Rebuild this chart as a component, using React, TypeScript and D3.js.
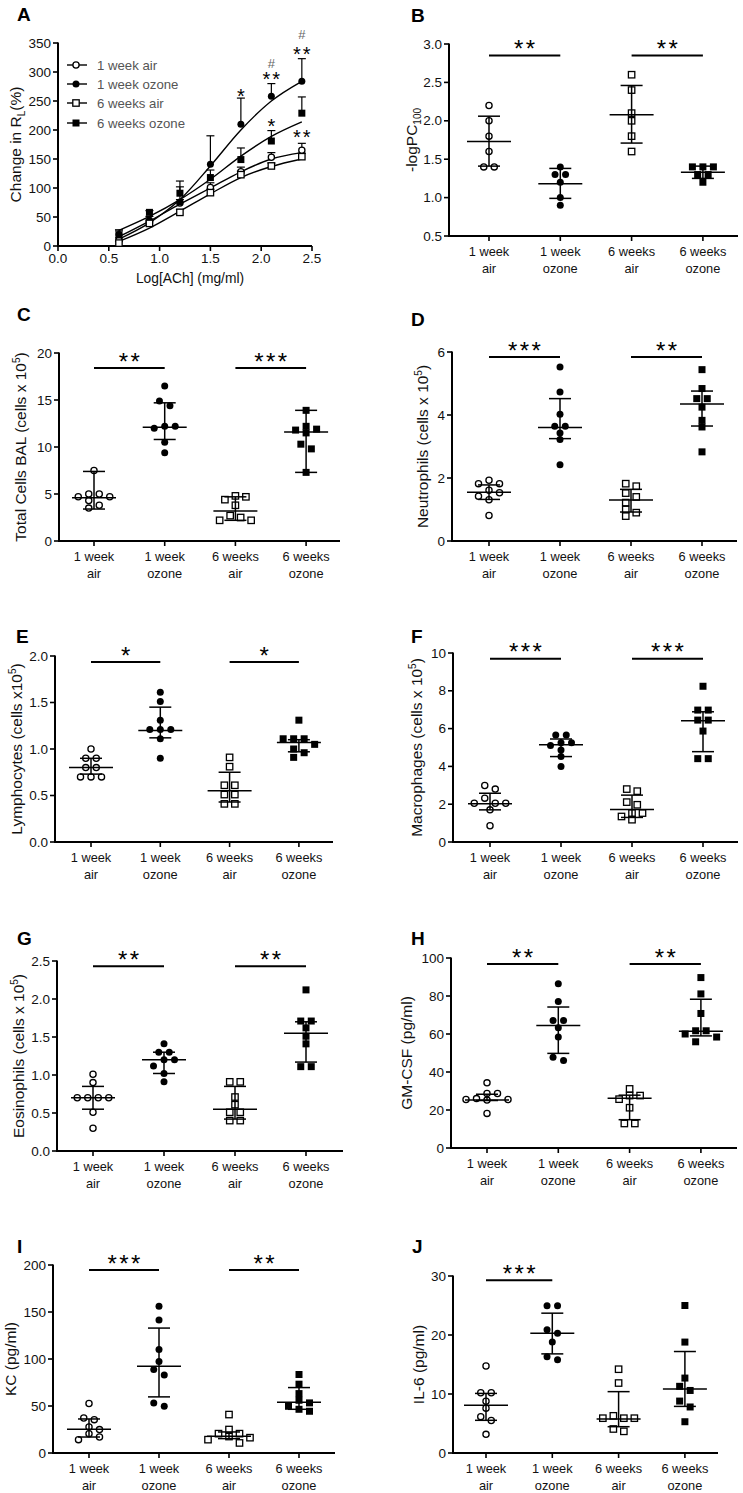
import React from 'react';
import * as d3 from 'd3';

// ---------------- DATA ----------------
const CATEGORY_LINES = [['1 week', 'air'], ['1 week', 'ozone'], ['6 weeks', 'air'], ['6 weeks', 'ozone']];
const GROUP_NAMES = ['1 week air', '1 week ozone', '6 weeks air', '6 weeks ozone'];

// Panel A: dose response
const A_DOSES = [0.6, 0.9, 1.2, 1.5, 1.8, 2.1, 2.4];
const A_X_TICKS = [0, 0.5, 1.0, 1.5, 2.0, 2.5];
const A_Y_TICKS = [0, 50, 100, 150, 200, 250, 300, 350];
const A_W1AIR_MEAN = [10, 40, 74, 101, 128, 153, 165];
const A_W1AIR_ERR = [4, 5, 6, 8, 8, 8, 12];
const A_W1OZ_MEAN = [20, 45, 76, 141, 210, 258, 284];
const A_W1OZ_ERR = [6, 6, 26, 49, 45, 22, 39];
const A_W6AIR_MEAN = [5, 39, 58, 92, 123, 138, 154];
const A_W6AIR_ERR = [3, 4, 5, 6, 6, 5, 6];
const A_W6OZ_MEAN = [19, 58, 91, 118, 149, 181, 229];
const A_W6OZ_ERR = [9, 3, 21, 13, 20, 18, 28];
const A_W1AIR_FIT = [16, 43, 72, 100, 128, 150, 161];
const A_W1OZ_FIT = [12, 40, 80, 138, 200, 250, 284];
const A_W6AIR_FIT = [8, 31, 60, 90, 118, 137, 150];
const A_W6OZ_FIT = [27, 51, 80, 115, 155, 189, 214];
const A_MARKS = [
  { x: 1.8, y: 267, t: '*' },
  { x: 2.1, y: 295, t: '**' },
  { x: 2.1, y: 315, t: '#' },
  { x: 2.4, y: 338, t: '**' },
  { x: 2.4, y: 364, t: '#' },
  { x: 2.1, y: 214, t: '*' },
  { x: 2.4, y: 195, t: '**' },
];

// Panel B: -logPC100
const B_W1AIR = [2.2, 2.0, 1.8, 1.6, 1.4, 1.4];
const B_W1OZ = [1.4, 1.3, 1.3, 1.2, 1.0, 0.9];
const B_W6AIR = [2.6, 2.4, 2.1, 2.0, 1.8, 1.6];
const B_W6OZ = [1.4, 1.4, 1.4, 1.3, 1.3, 1.2];
const B_CENTER = [1.73, 1.18, 2.08, 1.33];
const B_LOW = [1.41, 0.99, 1.71, 1.25];
const B_HIGH = [2.06, 1.38, 2.46, 1.41];
const B_TICKS = [0.5, 1.0, 1.5, 2.0, 2.5, 3.0];
const B_SIG = [{ a: 0, b: 1, y: 2.85, t: '**' }, { a: 2, b: 3, y: 2.85, t: '**' }];

// Panel C: total cells
const C_W1AIR = [7.5, 5.0, 5.0, 4.7, 4.7, 4.3, 3.8, 3.5];
const C_W1OZ = [16.5, 14.9, 14.4, 12.2, 12.2, 12.0, 10.5, 9.4];
const C_W6AIR = [4.8, 4.7, 4.4, 3.8, 2.7, 2.5, 2.2, 2.2];
const C_W6OZ = [13.9, 12.2, 11.9, 11.8, 11.5, 10.3, 9.8, 7.3];
const C_CENTER = [4.6, 12.1, 3.2, 11.6];
const C_LOW = [3.4, 10.8, 2.2, 7.3];
const C_HIGH = [7.4, 14.7, 4.7, 13.9];
const C_TICKS = [0, 5, 10, 15, 20];
const C_SIG = [{ a: 0, b: 1, y: 18.4, t: '**' }, { a: 2, b: 3, y: 18.4, t: '***' }];

// Panel D: neutrophils
const D_W1AIR = [1.93, 1.82, 1.82, 1.61, 1.53, 1.42, 1.31, 0.81];
const D_W1OZ = [5.52, 4.73, 4.02, 3.64, 3.64, 3.43, 3.22, 2.42];
const D_W6AIR = [1.82, 1.74, 1.52, 1.4, 1.22, 1.0, 0.9, 0.79];
const D_W6OZ = [5.44, 4.84, 4.52, 4.52, 4.25, 3.83, 3.62, 2.83];
const D_CENTER = [1.55, 3.6, 1.3, 4.35];
const D_LOW = [1.32, 3.25, 0.92, 3.65];
const D_HIGH = [1.78, 4.52, 1.64, 4.76];
const D_TICKS = [0, 2, 4, 6];
const D_SIG = [{ a: 0, b: 1, y: 5.84, t: '***' }, { a: 2, b: 3, y: 5.84, t: '**' }];

// Panel E: lymphocytes
const E_W1AIR = [1.0, 0.9, 0.9, 0.8, 0.8, 0.7, 0.7, 0.7];
const E_W1OZ = [1.61, 1.51, 1.31, 1.21, 1.21, 1.21, 1.11, 0.9];
const E_W6AIR = [0.91, 0.81, 0.61, 0.61, 0.51, 0.51, 0.41, 0.41];
const E_W6OZ = [1.31, 1.11, 1.11, 1.11, 1.05, 1.0, 0.96, 0.91];
const E_CENTER = [0.8, 1.2, 0.55, 1.07];
const E_LOW = [0.73, 1.12, 0.43, 0.97];
const E_HIGH = [0.9, 1.45, 0.75, 1.1];
const E_TICKS = [0, 0.5, 1.0, 1.5, 2.0];
const E_SIG = [{ a: 0, b: 1, y: 1.935, t: '*' }, { a: 2, b: 3, y: 1.935, t: '*' }];

// Panel F: macrophages
const F_W1AIR = [2.99, 2.8, 2.32, 2.05, 2.05, 2.05, 1.7, 0.86];
const F_W1OZ = [5.66, 5.66, 5.25, 5.25, 5.1, 4.87, 4.52, 3.99];
const F_W6AIR = [2.8, 2.69, 2.11, 1.97, 1.53, 1.53, 1.35, 1.18];
const F_W6OZ = [8.24, 6.98, 6.98, 6.45, 6.45, 5.87, 4.41, 4.41];
const F_CENTER = [2.02, 5.15, 1.72, 6.42];
const F_LOW = [1.7, 4.52, 1.3, 4.78];
const F_HIGH = [2.58, 5.45, 2.48, 6.89];
const F_TICKS = [0, 2, 4, 6, 8, 10];
const F_SIG = [{ a: 0, b: 1, y: 9.7, t: '***' }, { a: 2, b: 3, y: 9.7, t: '***' }];

// Panel G: eosinophils
const G_W1AIR = [1.01, 0.9, 0.7, 0.7, 0.7, 0.7, 0.51, 0.3];
const G_W1OZ = [1.41, 1.3, 1.3, 1.2, 1.2, 1.12, 1.02, 0.91];
const G_W6AIR = [0.91, 0.91, 0.71, 0.61, 0.51, 0.51, 0.4, 0.4];
const G_W6OZ = [2.12, 1.71, 1.71, 1.62, 1.51, 1.41, 1.11, 1.11];
const G_CENTER = [0.7, 1.2, 0.55, 1.55];
const G_LOW = [0.55, 1.02, 0.42, 1.17];
const G_HIGH = [0.85, 1.3, 0.85, 1.7];
const G_TICKS = [0, 0.5, 1.0, 1.5, 2.0, 2.5];
const G_SIG = [{ a: 0, b: 1, y: 2.43, t: '**' }, { a: 2, b: 3, y: 2.43, t: '**' }];

// Panel H: GM-CSF
const H_W1AIR = [34.3, 28.7, 28.7, 26, 25.5, 25.5, 25.2, 18.2];
const H_W1OZ = [86.4, 77.1, 67.1, 67.1, 63.3, 58.4, 47.7, 46];
const H_W6AIR = [31.1, 27.6, 27.6, 25.7, 21.2, 12.9, 12.9];
const H_W6OZ = [89.7, 81.1, 70.8, 61.7, 61.7, 60, 58.4, 55.9];
const H_CENTER = [25.3, 64.5, 26.2, 61.5];
const H_LOW = [25.0, 49.8, 14.9, 59];
const H_HIGH = [28.3, 74.2, 27.8, 78.3];
const H_TICKS = [0, 20, 40, 60, 80, 100];
const H_SIG = [{ a: 0, b: 1, y: 96.8, t: '**' }, { a: 2, b: 3, y: 96.8, t: '**' }];

// Panel I: KC
const I_W1AIR = [52.6, 37.3, 35.5, 27.7, 24.9, 20.6, 17, 14.2];
const I_W1OZ = [156, 141.4, 110.1, 97.3, 88.8, 83.1, 53.3, 49.7];
const I_W6AIR = [40.9, 25, 20.6, 20.6, 17.5, 16.3, 14.2, 10.7];
const I_W6OZ = [83.5, 73.2, 63.2, 56.1, 53.3, 49.7, 46.5, 44.4];
const I_CENTER = [25.2, 92.4, 17.8, 54];
const I_LOW = [17, 59.7, 15.3, 46.5];
const I_HIGH = [36.2, 132.9, 22.4, 69.6];
const I_TICKS = [0, 50, 100, 150, 200];
const I_SIG = [{ a: 0, b: 1, y: 194.7, t: '***' }, { a: 2, b: 3, y: 194.7, t: '**' }];

// Panel J: IL-6
const J_W1AIR = [14.75, 10.2, 10.2, 8.76, 7.6, 6.16, 5.5, 3.16];
const J_W1OZ = [24.97, 24.97, 20.9, 20.3, 18.8, 16.3, 15.8];
const J_W6AIR = [14.2, 11.86, 6.3, 5.9, 5.9, 5.9, 4.07, 3.67];
const J_W6OZ = [25, 18.8, 12.7, 11.3, 10.6, 8.8, 7.8, 5.3];
const J_CENTER = [8.08, 20.3, 5.76, 10.85];
const J_LOW = [5.54, 16.8, 4.46, 7.9];
const J_HIGH = [10.1, 23.7, 10.4, 17.2];
const J_TICKS = [0, 10, 20, 30];
const J_SIG = [{ a: 0, b: 1, y: 29.3, t: '***' }];

// ---------------- LAYOUT / STYLE ----------------
const FONT = "'Liberation Sans', Arial, Helvetica, sans-serif";
const MARKER_KINDS = ['oc', 'fc', 'os', 'fs'];

const LAYOUT: Record<string, any> = {
  A: { x0: 58, xEnd: 312, yTop: 43, yBot: 246, letterX: 17, letterY: 21, titleX: 21 },
  B: { x0: 449, xEnd: 738, yTop: 44, yBot: 236, cat0: 489, catStep: 71.3, letterX: 411, letterY: 22, titleX: 417 },
  C: { x0: 59, xEnd: 340, yTop: 353, yBot: 541, cat0: 94, catStep: 70.7, letterX: 17, letterY: 321, titleX: 26 },
  D: { x0: 452, xEnd: 737, yTop: 352, yBot: 541, cat0: 489, catStep: 71, letterX: 411, letterY: 326, titleX: 428 },
  E: { x0: 55, xEnd: 333, yTop: 656, yBot: 842, cat0: 91, catStep: 69.3, letterX: 16, letterY: 643, titleX: 22 },
  F: { x0: 453, xEnd: 738, yTop: 653, yBot: 842, cat0: 490, catStep: 71, letterX: 411, letterY: 643, titleX: 422 },
  G: { x0: 57, xEnd: 343, yTop: 961, yBot: 1151, cat0: 93, catStep: 71, letterX: 17, letterY: 945, titleX: 24 },
  H: { x0: 451, xEnd: 737, yTop: 958, yBot: 1148, cat0: 487, catStep: 71.3, letterX: 411, letterY: 945, titleX: 412 },
  I: { x0: 53, xEnd: 335, yTop: 1265, yBot: 1453, cat0: 89, catStep: 70, letterX: 17, letterY: 1253, titleX: 16 },
  J: { x0: 453, xEnd: 718, yTop: 1276, yBot: 1453, cat0: 486, catStep: 66.3, letterX: 412, letterY: 1253, titleX: 424 },
};

function Marker({ kind, x, y }: { kind: string; x: number; y: number }) {
  if (kind === 'oc') return <circle cx={x} cy={y} r={3.1} fill="#fff" stroke="#000" strokeWidth={1.3} />;
  if (kind === 'fc') return <circle cx={x} cy={y} r={3.5} fill="#000" />;
  if (kind === 'os') return <rect x={x - 3.2} y={y - 3.2} width={6.4} height={6.4} fill="#fff" stroke="#000" strokeWidth={1.3} />;
  return <rect x={x - 3.5} y={y - 3.5} width={7} height={7} fill="#000" />;
}

// scatter spreading: points whose pixel rows overlap are pushed sideways
function swarm(ys: number[], dxMin: number, dyMin: number): number[] {
  const order = ys.map((_, i) => i).sort((a, b) => ys[a] - ys[b]);
  const placed: { x: number; y: number }[] = [];
  const xs = new Array(ys.length).fill(0);
  for (const i of order) {
    const y = ys[i];
    const near = placed.filter((p) => Math.abs(p.y - y) < dyMin);
    const cands = [0];
    near.forEach((p) => cands.push(p.x + dxMin, p.x - dxMin));
    cands.sort((a, b) => Math.abs(a) - Math.abs(b) || b - a);
    const x = cands.find((c) => near.every((p) => Math.abs(p.x - c) >= dxMin - 0.01)) ?? 0;
    xs[i] = x;
    placed.push({ x, y });
  }
  let cluster: number[] = [];
  const flush = () => {
    if (cluster.length > 1) {
      const ext = d3.extent(cluster, (k) => xs[k]) as [number, number];
      const m = (ext[0] + ext[1]) / 2;
      cluster.forEach((k) => (xs[k] -= m));
    }
    cluster = [];
  };
  order.forEach((i, n) => {
    if (n > 0 && ys[i] - ys[order[n - 1]] >= dyMin) flush();
    cluster.push(i);
  });
  flush();
  return xs;
}

function Stars({ x, yPx, t, size }: { x: number; yPx: number; t: string; size: number }) {
  const ls = size * 0.1;
  return (
    <text x={x + ls / 2} y={yPx + size * 0.57} textAnchor="middle" fontSize={size} letterSpacing={ls} fontFamily={FONT} fill="#000">
      {t}
    </text>
  );
}

function ScatterPanel(props: {
  id: string;
  groups: number[][];
  center: number[];
  low: number[];
  high: number[];
  ticks: number[];
  fmt: string;
  sig: { a: number; b: number; y: number; t: string }[];
  title: React.ReactNode;
}) {
  const L = LAYOUT[props.id];
  const { ticks } = props;
  const y = d3.scaleLinear().domain([ticks[0], ticks[ticks.length - 1]]).range([L.yBot, L.yTop]);
  const x = d3
    .scalePoint<string>()
    .domain(['0', '1', '2', '3'])
    .range([L.cat0, L.cat0 + 3 * L.catStep]);
  const f = d3.format(props.fmt);
  const midY = (L.yTop + L.yBot) / 2;
  return (
    <g>
      <text x={L.letterX} y={L.letterY} fontSize={19} fontWeight="bold" fontFamily={FONT}>
        {props.id}
      </text>
      <text
        transform={`translate(${L.titleX},${midY}) rotate(-90)`}
        textAnchor="middle"
        fontSize={15.5}
        fontFamily={FONT}
        fill="#111"
      >
        {props.title}
      </text>
      <line x1={L.x0} x2={L.x0} y1={L.yTop - 0.5} y2={L.yBot + 1} stroke="#000" strokeWidth={2} />
      <line x1={L.x0 - 1} x2={L.xEnd} y1={L.yBot} y2={L.yBot} stroke="#000" strokeWidth={2} />
      {ticks.map((t) => (
        <g key={t}>
          <line x1={L.x0 - 5} x2={L.x0} y1={y(t)} y2={y(t)} stroke="#000" strokeWidth={1.6} />
          <text x={L.x0 - 7} y={y(t) + 4.5} textAnchor="end" fontSize={13.5} fontFamily={FONT} fill="#111">
            {f(t)}
          </text>
        </g>
      ))}
      {CATEGORY_LINES.map((lines, i) => {
        const cx = x(String(i)) as number;
        return (
          <g key={i}>
            <line x1={cx} x2={cx} y1={L.yBot} y2={L.yBot + 5} stroke="#000" strokeWidth={1.6} />
            <text x={cx} y={L.yBot + 19.5} textAnchor="middle" fontSize={12.8} fontFamily={FONT} fill="#111">
              {lines[0]}
            </text>
            <text x={cx} y={L.yBot + 36.5} textAnchor="middle" fontSize={12.8} fontFamily={FONT} fill="#111">
              {lines[1]}
            </text>
          </g>
        );
      })}
      {props.groups.map((vals, gi) => {
        const cx = x(String(gi)) as number;
        const ys = vals.map((v) => y(v));
        const offs = swarm(ys, 10.5, 6.5);
        return (
          <g key={gi}>
            {vals.map((v, k) => (
              <Marker key={k} kind={MARKER_KINDS[gi]} x={cx + offs[k]} y={ys[k]} />
            ))}
          </g>
        );
      })}
      {props.center.map((c, gi) => {
        const cx = x(String(gi)) as number;
        return (
          <g key={gi} stroke="#000" strokeWidth={1.5}>
            <line x1={cx} x2={cx} y1={y(props.low[gi])} y2={y(props.high[gi])} />
            <line x1={cx - 11} x2={cx + 11} y1={y(props.low[gi])} y2={y(props.low[gi])} />
            <line x1={cx - 11} x2={cx + 11} y1={y(props.high[gi])} y2={y(props.high[gi])} />
            <line x1={cx - 22} x2={cx + 22} y1={y(c)} y2={y(c)} />
          </g>
        );
      })}
      {props.sig.map((s, k) => {
        const xa = x(String(s.a)) as number;
        const xb = x(String(s.b)) as number;
        const by = y(s.y);
        return (
          <g key={k}>
            <line x1={xa} x2={xb} y1={by} y2={by} stroke="#000" strokeWidth={2} />
            <Stars x={(xa + xb) / 2} yPx={by - 12} t={s.t} size={24} />
          </g>
        );
      })}
    </g>
  );
}

function PanelA() {
  const L = LAYOUT.A;
  const x = d3.scaleLinear().domain([0, 2.5]).range([L.x0, L.xEnd]);
  const y = d3.scaleLinear().domain([0, 350]).range([L.yBot, L.yTop]);
  const series = [
    { mean: A_W1AIR_MEAN, err: A_W1AIR_ERR, fit: A_W1AIR_FIT },
    { mean: A_W1OZ_MEAN, err: A_W1OZ_ERR, fit: A_W1OZ_FIT },
    { mean: A_W6AIR_MEAN, err: A_W6AIR_ERR, fit: A_W6AIR_FIT },
    { mean: A_W6OZ_MEAN, err: A_W6OZ_ERR, fit: A_W6OZ_FIT },
  ];
  const line = d3
    .line<number>()
    .x((_, i) => x(A_DOSES[i]))
    .y((d) => y(d))
    .curve(d3.curveMonotoneX);
  const fx = d3.format('.1f');
  const legendRows = [65, 84, 103, 123];
  return (
    <g>
      <text x={L.letterX} y={L.letterY} fontSize={19} fontWeight="bold" fontFamily={FONT}>
        A
      </text>
      <text
        transform={`translate(${L.titleX},${(L.yTop + L.yBot) / 2}) rotate(-90)`}
        textAnchor="middle"
        fontSize={15.5}
        fontFamily={FONT}
        fill="#111"
      >
        Change in R
        <tspan dy={4} fontSize={10}>
          L
        </tspan>
        <tspan dy={-4}>(%)</tspan>
      </text>
      <line x1={L.x0} x2={L.x0} y1={L.yTop - 0.5} y2={L.yBot + 1} stroke="#000" strokeWidth={2} />
      <line x1={L.x0 - 1} x2={L.xEnd} y1={L.yBot} y2={L.yBot} stroke="#000" strokeWidth={2} />
      {A_Y_TICKS.map((t) => (
        <g key={t}>
          <line x1={L.x0 - 5} x2={L.x0} y1={y(t)} y2={y(t)} stroke="#000" strokeWidth={1.6} />
          <text x={L.x0 - 7} y={y(t) + 4.5} textAnchor="end" fontSize={13.5} fontFamily={FONT} fill="#111">
            {t}
          </text>
        </g>
      ))}
      {A_X_TICKS.map((t) => (
        <g key={t}>
          <line x1={x(t)} x2={x(t)} y1={L.yBot} y2={L.yBot + 5} stroke="#000" strokeWidth={1.6} />
          <text x={x(t)} y={L.yBot + 17} textAnchor="middle" fontSize={13.5} fontFamily={FONT} fill="#111">
            {fx(t)}
          </text>
        </g>
      ))}
      <text x={190} y={283} textAnchor="middle" fontSize={13.8} fontFamily={FONT} fill="#111">
        Log[ACh] (mg/ml)
      </text>
      {series.map((s, si) => (
        <path key={'f' + si} d={line(s.fit) as string} fill="none" stroke="#000" strokeWidth={1.4} />
      ))}
      {series.map((s, si) => (
        <g key={'e' + si} stroke="#000" strokeWidth={1.2}>
          {s.mean.map((m, i) => (
            <g key={i}>
              <line x1={x(A_DOSES[i])} x2={x(A_DOSES[i])} y1={y(m)} y2={y(m + s.err[i])} />
              <line x1={x(A_DOSES[i]) - 4} x2={x(A_DOSES[i]) + 4} y1={y(m + s.err[i])} y2={y(m + s.err[i])} />
            </g>
          ))}
        </g>
      ))}
      {series.map((s, si) => (
        <g key={'m' + si}>
          {s.mean.map((m, i) => (
            <Marker key={i} kind={MARKER_KINDS[si]} x={x(A_DOSES[i])} y={y(m)} />
          ))}
        </g>
      ))}
      {A_MARKS.map((mk, i) =>
        mk.t === '#' ? (
          <text key={i} x={x(mk.x)} y={y(mk.y) + 4.5} textAnchor="middle" fontSize={13} fontFamily={FONT} fill="#666">
            #
          </text>
        ) : (
          <Stars key={i} x={x(mk.x)} yPx={y(mk.y)} t={mk.t} size={20} />
        )
      )}
      {GROUP_NAMES.map((name, i) => (
        <g key={name}>
          <line x1={67} x2={87} y1={legendRows[i]} y2={legendRows[i]} stroke="#000" strokeWidth={1.4} />
          <Marker kind={MARKER_KINDS[i]} x={76} y={legendRows[i]} />
          <text x={97} y={legendRows[i] + 4.5} fontSize={13.2} fontFamily={FONT} fill="#555">
            {name}
          </text>
        </g>
      ))}
    </g>
  );
}

const sup5 = (
  <>
    <tspan dy={-6} fontSize={10}>
      5
    </tspan>
    <tspan dy={6}>)</tspan>
  </>
);

export default function App() {
  return (
    <svg
      width={743}
      height={1493}
      viewBox="0 0 743 1493"
      style={{ position: 'absolute', left: 0, top: 0, background: '#fff' }}
    >
      <rect x={0} y={0} width={743} height={1493} fill="#fff" />
      <PanelA />
      <ScatterPanel
        id="B"
        groups={[B_W1AIR, B_W1OZ, B_W6AIR, B_W6OZ]}
        center={B_CENTER}
        low={B_LOW}
        high={B_HIGH}
        ticks={B_TICKS}
        fmt=".1f"
        sig={B_SIG}
        title={
          <>
            -logPC
            <tspan dy={4} fontSize={10}>
              100
            </tspan>
          </>
        }
      />
      <ScatterPanel
        id="C"
        groups={[C_W1AIR, C_W1OZ, C_W6AIR, C_W6OZ]}
        center={C_CENTER}
        low={C_LOW}
        high={C_HIGH}
        ticks={C_TICKS}
        fmt="d"
        sig={C_SIG}
        title={<>Total Cells BAL (cells x 10{sup5}</>}
      />
      <ScatterPanel
        id="D"
        groups={[D_W1AIR, D_W1OZ, D_W6AIR, D_W6OZ]}
        center={D_CENTER}
        low={D_LOW}
        high={D_HIGH}
        ticks={D_TICKS}
        fmt="d"
        sig={D_SIG}
        title={<>Neutrophils (cells x 10{sup5}</>}
      />
      <ScatterPanel
        id="E"
        groups={[E_W1AIR, E_W1OZ, E_W6AIR, E_W6OZ]}
        center={E_CENTER}
        low={E_LOW}
        high={E_HIGH}
        ticks={E_TICKS}
        fmt=".1f"
        sig={E_SIG}
        title={<>Lymphocytes (cells x10{sup5}</>}
      />
      <ScatterPanel
        id="F"
        groups={[F_W1AIR, F_W1OZ, F_W6AIR, F_W6OZ]}
        center={F_CENTER}
        low={F_LOW}
        high={F_HIGH}
        ticks={F_TICKS}
        fmt="d"
        sig={F_SIG}
        title={<>Macrophages (cells x 10{sup5}</>}
      />
      <ScatterPanel
        id="G"
        groups={[G_W1AIR, G_W1OZ, G_W6AIR, G_W6OZ]}
        center={G_CENTER}
        low={G_LOW}
        high={G_HIGH}
        ticks={G_TICKS}
        fmt=".1f"
        sig={G_SIG}
        title={<>Eosinophils (cells x 10{sup5}</>}
      />
      <ScatterPanel
        id="H"
        groups={[H_W1AIR, H_W1OZ, H_W6AIR, H_W6OZ]}
        center={H_CENTER}
        low={H_LOW}
        high={H_HIGH}
        ticks={H_TICKS}
        fmt="d"
        sig={H_SIG}
        title={<>GM-CSF (pg/ml)</>}
      />
      <ScatterPanel
        id="I"
        groups={[I_W1AIR, I_W1OZ, I_W6AIR, I_W6OZ]}
        center={I_CENTER}
        low={I_LOW}
        high={I_HIGH}
        ticks={I_TICKS}
        fmt="d"
        sig={I_SIG}
        title={<>KC (pg/ml)</>}
      />
      <ScatterPanel
        id="J"
        groups={[J_W1AIR, J_W1OZ, J_W6AIR, J_W6OZ]}
        center={J_CENTER}
        low={J_LOW}
        high={J_HIGH}
        ticks={J_TICKS}
        fmt="d"
        sig={J_SIG}
        title={<>IL-6 (pg/ml)</>}
      />
    </svg>
  );
}
